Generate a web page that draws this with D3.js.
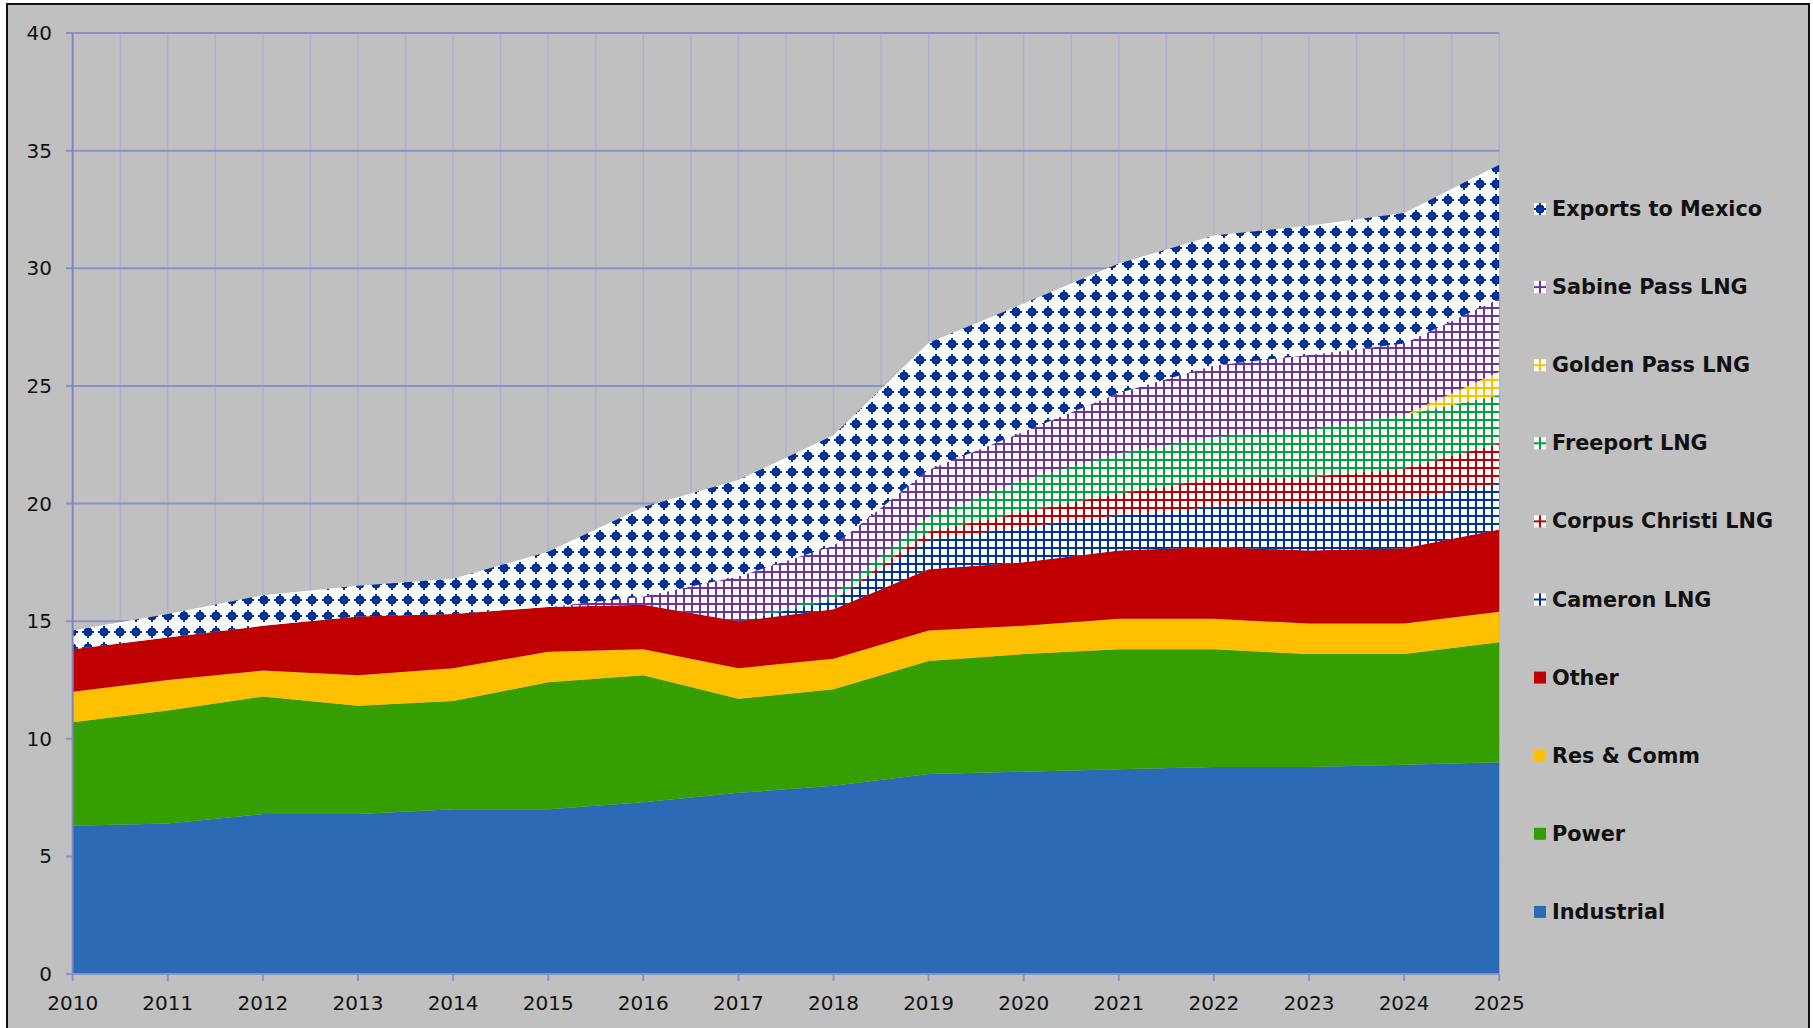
<html>
<head>
<title>gulf coast gas demand</title>
<script type="text/javascript" src="https://d3js.org/d3.v7.min.js"></script>
<style>
	body {
		margin:0px;
		padding:0px;
		overflow:hidden;
		background-color:white;
	}
	svg text {font-family:'DejaVu Sans', Verdana, sans-serif; fill:#111;}
	.legend text {font-weight:bold;}
</style>
</head>
<body>
<svg id="chart" width="1813" height="1028"></svg>
<script type="text/javascript">

var years = [2010,2011,2012,2013,2014,2015,2016,2017,2018,2019,2020,2021,2022,2023,2024,2025];

// values, stacked from the bottom up
var industrial = [6.3,6.4,6.8,6.8,7.0,7.0,7.3,7.7,8.0,8.5,8.6,8.7,8.8,8.8,8.9,9.0];
var power      = [4.4,4.8,5.0,4.6,4.6,5.4,5.4,4.0,4.1,4.8,5.0,5.1,5.0,4.8,4.7,5.1];
var resComm    = [1.3,1.3,1.1,1.3,1.4,1.3,1.1,1.3,1.3,1.3,1.2,1.3,1.3,1.3,1.3,1.3];
var other      = [1.8,1.8,1.9,2.5,2.3,1.9,1.9,2.0,2.1,2.6,2.7,2.9,3.05,3.1,3.2,3.5];
var cameron    = [0,0,0,0,0,0,0,0,0.4,1.25,1.5,1.5,1.7,2.0,2.05,1.95];
var corpus     = [0,0,0,0,0,0,0,0,0,0.35,0.65,0.93,1.2,1.13,1.34,1.7];
var freeport   = [0,0,0,0,0,0,0,0,0.2,0.63,1.35,1.7,1.78,2.0,2.27,2.05];
var golden     = [0,0,0,0,0,0,0,0,0,0,0,0,0,0,0,1.0];
var sabine     = [0,0,0,0,0,0,0.35,1.9,2.1,2.0,2.05,2.57,3.04,3.18,3.04,3.1];
var mexico     = [0.8,1.0,1.3,1.3,1.5,2.35,3.8,4.1,4.7,5.4,5.45,5.5,5.52,5.5,5.55,5.7];

var seriesNames = ['Industrial','Power','Res & Comm','Other','Cameron LNG','Corpus Christi LNG','Freeport LNG','Golden Pass LNG','Sabine Pass LNG','Exports to Mexico'];
var seriesValues = [industrial, power, resComm, other, cameron, corpus, freeport, golden, sabine, mexico];
var yTicks = [0,5,10,15,20,25,30,35,40];

var fills = {
	'Industrial': '#2b6bb5',
	'Power': '#359e00',
	'Res & Comm': '#ffc000',
	'Other': '#c00000',
	'Cameron LNG': 'url(#grid-cameron)',
	'Corpus Christi LNG': 'url(#grid-corpus)',
	'Freeport LNG': 'url(#grid-freeport)',
	'Golden Pass LNG': 'url(#grid-golden)',
	'Sabine Pass LNG': 'url(#grid-sabine)',
	'Exports to Mexico': 'url(#diamonds)'
};

var rows = years.map(function(y, i) {
	var r = {year: y};
	for (var s = 0; s < seriesNames.length; s++) { r[seriesNames[s]] = seriesValues[s][i]; }
	return r;
});

var svg = d3.select('#chart');
var defs = svg.append('defs');

function gridPattern(id, color) {
	var p = defs.append('pattern')
		.attr('id', id)
		.attr('patternUnits', 'userSpaceOnUse')
		.attr('width', 8)
		.attr('height', 8);
	p.append('rect').attr('width', 8).attr('height', 8).attr('fill', 'white');
	p.append('rect').attr('x', 3).attr('y', 0).attr('width', 2).attr('height', 8).attr('fill', color);
	p.append('rect').attr('x', 0).attr('y', 3).attr('width', 8).attr('height', 2).attr('fill', color);
}
gridPattern('grid-cameron', '#003399');
gridPattern('grid-corpus', '#c00000');
gridPattern('grid-freeport', '#00a03c');
gridPattern('grid-golden', '#ffc000');
gridPattern('grid-sabine', '#7030a0');

var dp = defs.append('pattern')
	.attr('id', 'diamonds')
	.attr('patternUnits', 'userSpaceOnUse')
	.attr('width', 16)
	.attr('height', 16);
dp.append('rect').attr('width', 16).attr('height', 16).attr('fill', 'white');
// rounded blob with small nubs, like the original bitmap fill
[[2,7,12,2],[4,5,8,6],[5,4,6,8],[7,2,2,12]].forEach(function(b) {
	dp.append('rect').attr('x', b[0]).attr('y', b[1]).attr('width', b[2]).attr('height', b[3]).attr('fill', '#003399');
});

// frame
svg.append('rect')
	.attr('x', 7).attr('y', 4)
	.attr('width', 1802).attr('height', 1030)
	.attr('fill', '#c0c0c0')
	.attr('stroke', '#111')
	.attr('stroke-width', 2);

var x = d3.scaleLinear().domain([2010, 2025]).range([72.7, 1499.2]);
var y = d3.scaleLinear().domain([0, 40]).range([974, 33]);

// vertical grid every half year
svg.append('g')
	.selectAll('line')
	.data(d3.range(2010.5, 2025.01, 0.5))
	.enter()
	.append('line')
	.attr('x1', function(d) {return x(d)})
	.attr('x2', function(d) {return x(d)})
	.attr('y1', y(40))
	.attr('y2', y(0))
	.attr('stroke', '#adafd6')
	.attr('stroke-width', 1.5);

svg.append('g')
	.selectAll('line')
	.data(yTicks)
	.enter()
	.append('line')
	.attr('x1', 66)
	.attr('x2', x(2025))
	.attr('y1', function(d) {return y(d)})
	.attr('y2', function(d) {return y(d)})
	.attr('stroke', '#8c90c6')
	.attr('stroke-width', 2);

var stack = d3.stack().keys(seriesNames);
var layers = stack(rows);

var area = d3.area()
	.x(function(d) {return x(d.data.year)})
	.y0(function(d) {return y(d[0])})
	.y1(function(d) {return y(d[1])});

svg.append('g')
	.selectAll('path')
	.data(layers)
	.enter()
	.append('path')
	.attr('d', area)
	.attr('fill', function(d) {return fills[d.key]});

// axes
svg.append('line')
	.attr('x1', x(2010)).attr('x2', x(2010))
	.attr('y1', y(40)).attr('y2', y(0))
	.attr('stroke', '#8084c2').attr('stroke-width', 2);
svg.append('line')
	.attr('x1', x(2010)).attr('x2', x(2025))
	.attr('y1', y(0)).attr('y2', y(0))
	.attr('stroke', '#8c90c6').attr('stroke-width', 2);

svg.append('g')
	.selectAll('line')
	.data(years)
	.enter()
	.append('line')
	.attr('x1', function(d) {return x(d)})
	.attr('x2', function(d) {return x(d)})
	.attr('y1', y(0))
	.attr('y2', y(0) + 7)
	.attr('stroke', '#8c90c6')
	.attr('stroke-width', 2);

svg.append('g')
	.selectAll('text')
	.data(yTicks)
	.enter()
	.append('text')
	.attr('x', 52)
	.attr('y', function(d) {return y(d) + 7})
	.attr('text-anchor', 'end')
	.attr('font-size', '20px')
	.text(function(d) {return d});

svg.append('g')
	.selectAll('text')
	.data(years)
	.enter()
	.append('text')
	.attr('x', function(d) {return x(d)})
	.attr('y', 1010)
	.attr('text-anchor', 'middle')
	.attr('font-size', '20px')
	.text(function(d) {return d});

// legend, top entry is the top layer
var legendNames = seriesNames.slice().reverse();
var legend = svg.append('g').attr('class', 'legend')
	.selectAll('g')
	.data(legendNames)
	.enter()
	.append('g')
	.attr('transform', function(d, i) {return 'translate(1534,' + (209 + i * 78.1) + ')'});

// shift the swatch so one pattern tile sits centred inside it
legend.append('rect')
	.attr('transform', function(d) {return d == 'Exports to Mexico' ? 'translate(-2,-8)' : 'translate(2,-4)'})
	.attr('x', function(d) {return d == 'Exports to Mexico' ? 2 : -2})
	.attr('y', function(d) {return d == 'Exports to Mexico' ? 2 : -2})
	.attr('width', 12)
	.attr('height', 12)
	.attr('fill', function(d) {return fills[d]});

legend.append('text')
	.attr('x', 18)
	.attr('y', 7)
	.attr('font-size', '20.8px')
	.text(function(d) {return d});

</script>
</body>
</html>
